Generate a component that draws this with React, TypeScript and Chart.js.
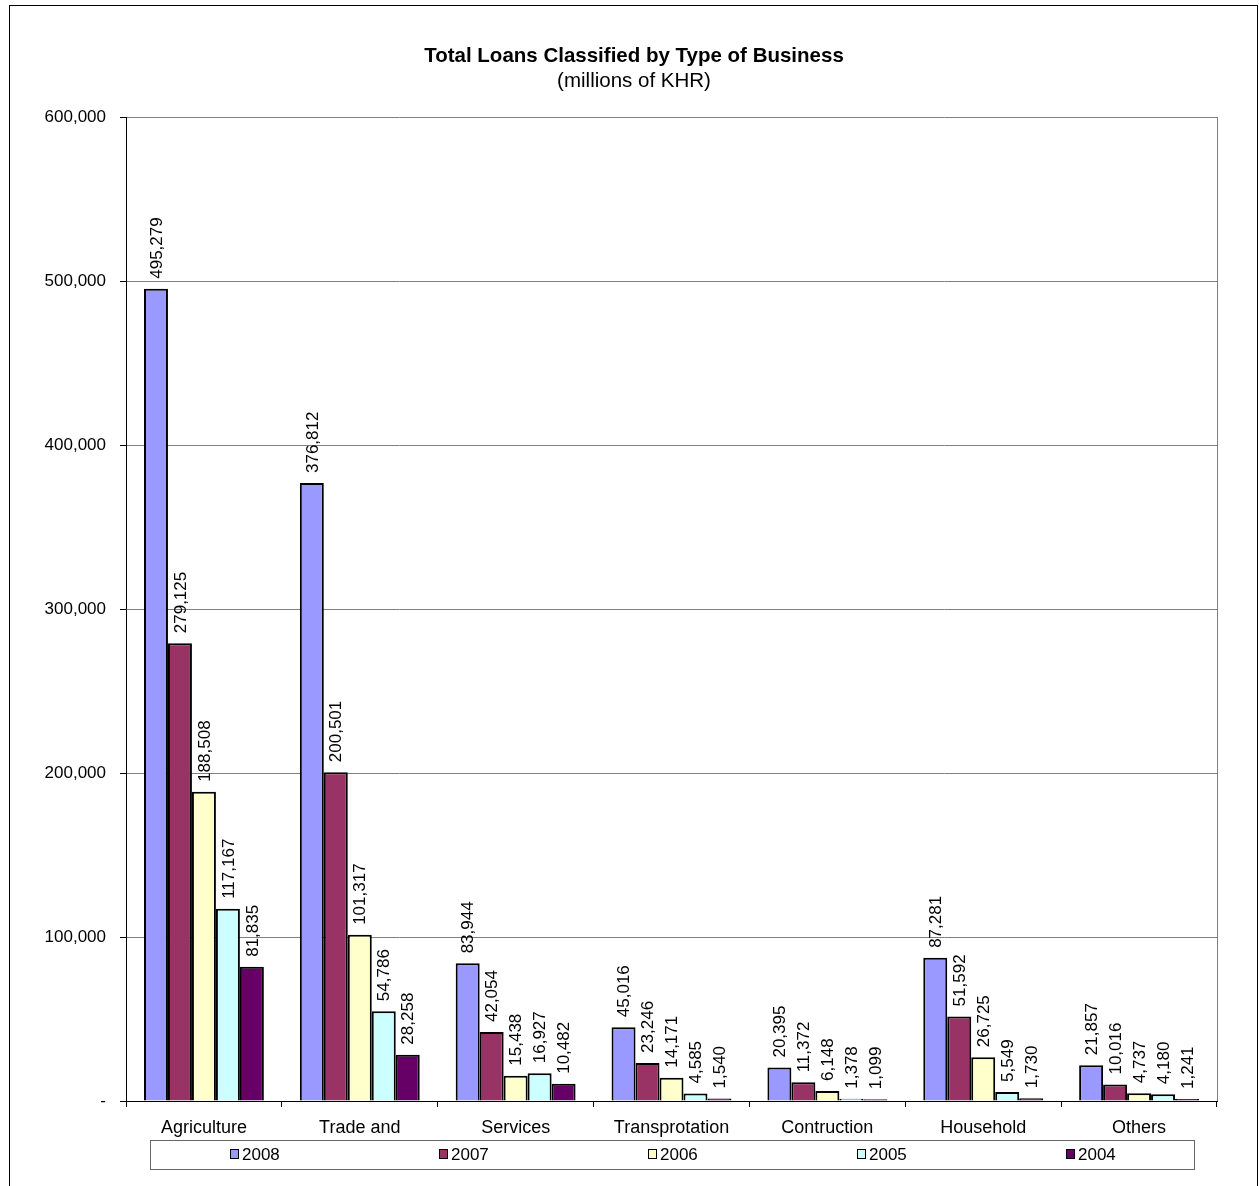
import React, { useEffect, useRef } from "react";
import { Chart, registerables } from "chart.js";

Chart.register(...registerables);

const categories = ["Agriculture", "Trade and", "Services", "Transprotation", "Contruction", "Household", "Others"];
const seriesLabels = ["2008", "2007", "2006", "2005", "2004"];
const values2008 = [495279, 376812, 83944, 45016, 20395, 87281, 21857];
const values2007 = [279125, 200501, 42054, 23246, 11372, 51592, 10016];
const values2006 = [188508, 101317, 15438, 14171, 6148, 26725, 4737];
const values2005 = [117167, 54786, 16927, 4585, 1378, 5549, 4180];
const values2004 = [81835, 28258, 10482, 1540, 1099, 1730, 1241];
const seriesColors = ["#9999FF", "#993366", "#FFFFCC", "#CCFFFF", "#660066"];
const yTicks = [0, 100000, 200000, 300000, 400000, 500000, 600000];
const titleText = "Total Loans Classified by Type of Business";
const subtitleText = "(millions of KHR)";

const FONT = "'Liberation Sans', Arial, sans-serif";
const fmt = (v: number) => v.toLocaleString("en-US");

export default function App() {
  const ref = useRef<HTMLCanvasElement | null>(null);
  useEffect(() => {
    document.body.style.margin = "0";
    const canvas = ref.current!;
    const allValues = [values2008, values2007, values2006, values2005, values2004];

    const decor = {
      id: "decor",
      beforeDraw(chart: any) {
        const { ctx } = chart;
        ctx.save();
        ctx.fillStyle = "#ffffff";
        ctx.fillRect(0, 0, chart.width, chart.height);
        ctx.restore();
      },
      afterDatasetsDraw(chart: any) {
        const { ctx, chartArea } = chart;
        ctx.save();
        ctx.strokeStyle = "#808080";
        ctx.lineWidth = 1;
        ctx.beginPath();
        ctx.moveTo(Math.round(chartArea.right) + 0.5, chartArea.top);
        ctx.lineTo(Math.round(chartArea.right) + 0.5, chartArea.bottom);
        ctx.stroke();
        ctx.fillStyle = "#000";
        ctx.font = `17px ${FONT}`;
        ctx.textAlign = "left";
        ctx.textBaseline = "middle";
        chart.data.datasets.forEach((ds: any, di: number) => {
          const meta = chart.getDatasetMeta(di);
          meta.data.forEach((el: any, i: number) => {
            ctx.save();
            ctx.translate(el.x + 1, el.y - 10);
            ctx.rotate(-Math.PI / 2);
            ctx.fillText(fmt(ds.data[i]), 0, 0);
            ctx.restore();
          });
        });
        ctx.restore();
      },
      afterDraw(chart: any) {
        const { ctx } = chart;
        ctx.save();
        ctx.strokeStyle = "#000";
        ctx.lineWidth = 1;
        ctx.strokeRect(9.5, 5.5, 1248, 1300);
        ctx.fillStyle = "#000";
        ctx.textAlign = "center";
        ctx.textBaseline = "middle";
        ctx.font = `bold 20.5px ${FONT}`;
        ctx.fillText(titleText, 634, 56);
        ctx.font = `20.5px ${FONT}`;
        ctx.fillText(subtitleText, 634, 81);
        ctx.strokeStyle = "#666";
        ctx.strokeRect(150.5, 1140.5, 1044, 29);
        const xs = [230, 439, 648, 857, 1066];
        ctx.font = `17px ${FONT}`;
        ctx.textAlign = "left";
        seriesLabels.forEach((lab, i) => {
          ctx.fillStyle = seriesColors[i];
          ctx.fillRect(xs[i] + 0.5, 1149.5, 8, 9);
          ctx.strokeStyle = "#000";
          ctx.strokeRect(xs[i] + 0.5, 1149.5, 8, 9);
          ctx.fillStyle = "#000";
          ctx.fillText(lab, xs[i] + 12, 1155);
        });
        ctx.restore();
      },
    };

    const chart = new Chart(canvas, {
      type: "bar",
      data: {
        labels: categories,
        datasets: seriesLabels.map((lab, i) => ({
          label: lab,
          data: allValues[i],
          backgroundColor: seriesColors[i],
          borderColor: "#000",
          borderWidth: 2,
          categoryPercentage: 5 / 6.5,
          barPercentage: 1,
        })),
      },
      options: {
        responsive: false,
        animation: false,
        devicePixelRatio: 1,
        layout: { padding: { top: 117, right: 42, left: 0, bottom: 0 } },
        plugins: {
          legend: { display: false },
          title: { display: false },
          tooltip: { enabled: false },
        },
        scales: {
          x: {
            offset: true,
            grid: { drawOnChartArea: false, offset: true, tickLength: 6, color: "#000", tickColor: "#000" },
            border: { color: "#000", width: 1 },
            ticks: { color: "#000", font: { family: FONT, size: 18 }, padding: 10, autoSkip: false, maxRotation: 0 },
            afterFit: (s: any) => { s.height = 85; },
          },
          y: {
            min: 0,
            max: 600000,
            afterBuildTicks: (s: any) => { s.ticks = yTicks.map((v) => ({ value: v })); },
            grid: { color: "#808080", tickColor: "#000", tickLength: 6 },
            border: { color: "#000", width: 1 },
            ticks: {
              color: "#000",
              font: { family: FONT, size: 17 },
              padding: 14,
              callback: (v: any) => (Number(v) === 0 ? "-" : fmt(Number(v))),
            },
            afterFit: (s: any) => { s.width = 126; },
          },
        },
      },
      plugins: [decor],
    });
    return () => chart.destroy();
  }, []);
  return <canvas ref={ref} width={1259} height={1186} style={{ display: "block" }} />;
}
